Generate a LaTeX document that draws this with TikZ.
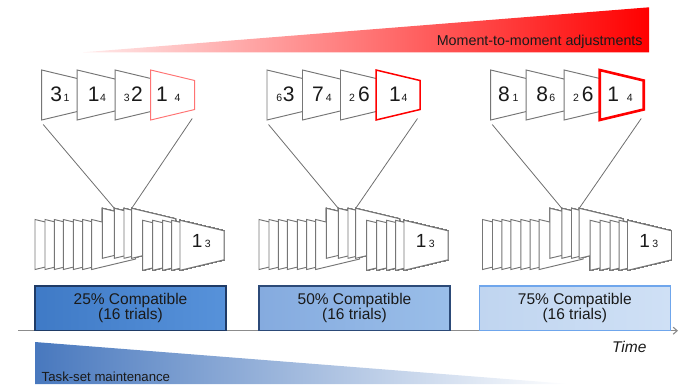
\documentclass[tikz,border=0pt]{standalone}
\usepackage{fontspec}
\setmainfont{Liberation Sans}
\usetikzlibrary{arrows.meta}

\definecolor{edge}{HTML}{767676}
\definecolor{linkgray}{HTML}{6E6E6E}
\definecolor{axisgray}{HTML}{8C8C8C}
\definecolor{wedgeblue}{HTML}{4878BE}
\definecolor{boxAl}{HTML}{3F7AC6}
\definecolor{boxAr}{HTML}{5792DA}
\definecolor{boxAb}{HTML}{1F3B66}
\definecolor{boxBl}{HTML}{85ABDF}
\definecolor{boxBr}{HTML}{9ABEE9}
\definecolor{boxBb}{HTML}{2C4A78}
\definecolor{boxCl}{HTML}{C0D5F0}
\definecolor{boxCr}{HTML}{CFE0F5}
\definecolor{boxCb}{HTML}{6FA6EC}
\definecolor{ink}{HTML}{1A1A1A}

% one perspective card: tall left side, shorter right side
\newcommand\trapz[3]{\filldraw[#3] (#1,#2) -- ++(44,10.5) -- ++(0,29) -- ++(-44,10.5) -- cycle;}
% large and small digits of a card label
\newcommand\BD[1]{{\fontsize{21}{21}\selectfont #1}}
\newcommand\SD[1]{{\fontsize{10.5}{10.5}\selectfont #1}}
\newcommand\BDs[1]{{\fontsize{19}{19}\selectfont #1}}
\newcommand\SDs[1]{{\fontsize{10.5}{10.5}\selectfont #1}}

\tikzset{
  panel/.style={draw=edge, fill=white, line width=0.95pt, line join=miter},
  redA/.style={draw=red!55, fill=white, line width=0.95pt},
  redB/.style={draw=red, fill=white, line width=1.5pt},
  redC/.style={draw=red, fill=white, line width=2.6pt, line join=miter},
  dig/.style={anchor=base, inner sep=0pt, text=ink},
  link/.style={draw=linkgray, line width=0.8pt},
  cbox/.style={minimum width=191pt, minimum height=44.7pt, inner sep=0pt,
    line width=1.1pt, align=center, text=ink,
    font=\fontsize{15.5}{15}\selectfont},
  lbl/.style={inner sep=0pt, text=ink},
}

\begin{document}
\begin{tikzpicture}[x=1pt, y=-1pt]
\useasboundingbox (0,0) rectangle (684,384);

% rising wedge at the top
\shade[left color=red!8, right color=red] (83,52.3) -- (649,7.3) -- (649,52.3) -- cycle;
\node[lbl, font=\fontsize{14.3}{14.3}\selectfont] (mtm) at (539.7,41.3) {Moment-to-moment adjustments};

% falling wedge at the bottom
\shade[left color=wedgeblue, right color=white] (35,342) -- (570,384) -- (35,384) -- cycle;
\node[lbl, anchor=west, font=\fontsize{13.2}{13.2}\selectfont] (tsm) at (41.5,376.7) {Task-set maintenance};

% time axis
\coordinate (ax0) at (18,330.7);
\coordinate (ax1) at (678,330.7);
\draw[axisgray, line width=1.1pt, -{Straight Barb[length=4pt, width=7pt]}] (ax0) -- (ax1);
\node[lbl, font=\fontsize{15.5}{15.5}\selectfont\itshape] (time) at (629.2,346.7) {Time};

% block boxes
\node[cbox, left color=boxAl, right color=boxAr, draw=boxAb] (b1) at (130.5,308.35) {25\% Compatible\\(16 trials)};
\node[cbox, left color=boxBl, right color=boxBr, draw=boxBb] (b2) at (354.5,308.35) {50\% Compatible\\(16 trials)};
\node[cbox, left color=boxCl, right color=boxCr, draw=boxCb] (b3) at (574.8,308.35) {75\% Compatible\\(16 trials)};

% trial sequences (stacks of cards) and the four zoomed cards above each
\foreach \dx/\tx/\rs [count=\g] in {0/41.7/redA, 224/267/redB, 447.5/490.7/redC} {
  % stack
  \foreach \o in {0,10,19.3,28.3,38.3,47.7,56.7}
    \trapz{\dx+35+\o}{219.5}{panel}
  \foreach \o in {67.3,79.3,89,96.7}
    \trapz{\dx+35+\o}{208.3}{panel}
  \foreach \o in {107.7,117.7,127.7,136.7}
    \trapz{\dx+35+\o}{220.3}{panel}
  \trapz{\dx+35+145}{220.3}{panel}
  \node[dig] (last\g) at (\dx+35+166.2,247.9) {\BDs{1}\hspace{2.5pt}\SDs{3}};
  % zoomed cards
  \trapz{\tx}{70}{panel}
  \trapz{\tx+35.5}{70}{panel}
  \trapz{\tx+73.5}{70}{panel}
  \trapz{\tx+109}{70}{\rs}
  % connectors from the zoomed cards down to the stack
  \coordinate (tL\g) at (\tx+1.5,124.5);
  \coordinate (tR\g) at (\tx+150.5,118.5);
  \coordinate (sL\g) at (\dx+35+79.3,208.3);
  \coordinate (sR\g) at (\dx+35+96.7,208.3);
  \draw[link] (tL\g) -- (sL\g);
  \draw[link] (tR\g) -- (sR\g);
}

% card labels, first block
\node[dig] (c11) at (60,101.5) {\BD{3}\hspace{1.5pt}\SD{1}};
\node[dig] (c12) at (97,101.5) {\BD{1}\hspace{0.5pt}\SD{4}};
\node[dig] (c13) at (133.3,101.5) {\SD{3}\hspace{1.5pt}\BD{2}};
\node[dig] (c14) at (168.3,101.5) {\BD{1}\hspace{7pt}\SD{4}};
% second block
\node[dig] (c21) at (285.5,101.5) {\SD{6}\hspace{0.5pt}\BD{3}};
\node[dig] (c22) at (322,101.5) {\BD{7}\hspace{2pt}\SD{4}};
\node[dig] (c23) at (359.5,101.5) {\SD{2}\hspace{3pt}\BD{6}};
\node[dig] (c24) at (398.3,101.5) {\BD{1}\hspace{1pt}\SD{4}};
% third block
\node[dig] (c31) at (508.3,101.5) {\BD{8}\hspace{3pt}\SD{1}};
\node[dig] (c32) at (545.8,101.5) {\BD{8}\hspace{1.5pt}\SD{6}};
\node[dig] (c33) at (583.3,101.5) {\SD{2}\hspace{3pt}\BD{6}};
\node[dig] (c34) at (620,101.5) {\BD{1}\hspace{8pt}\SD{4}};
\end{tikzpicture}
\end{document}
